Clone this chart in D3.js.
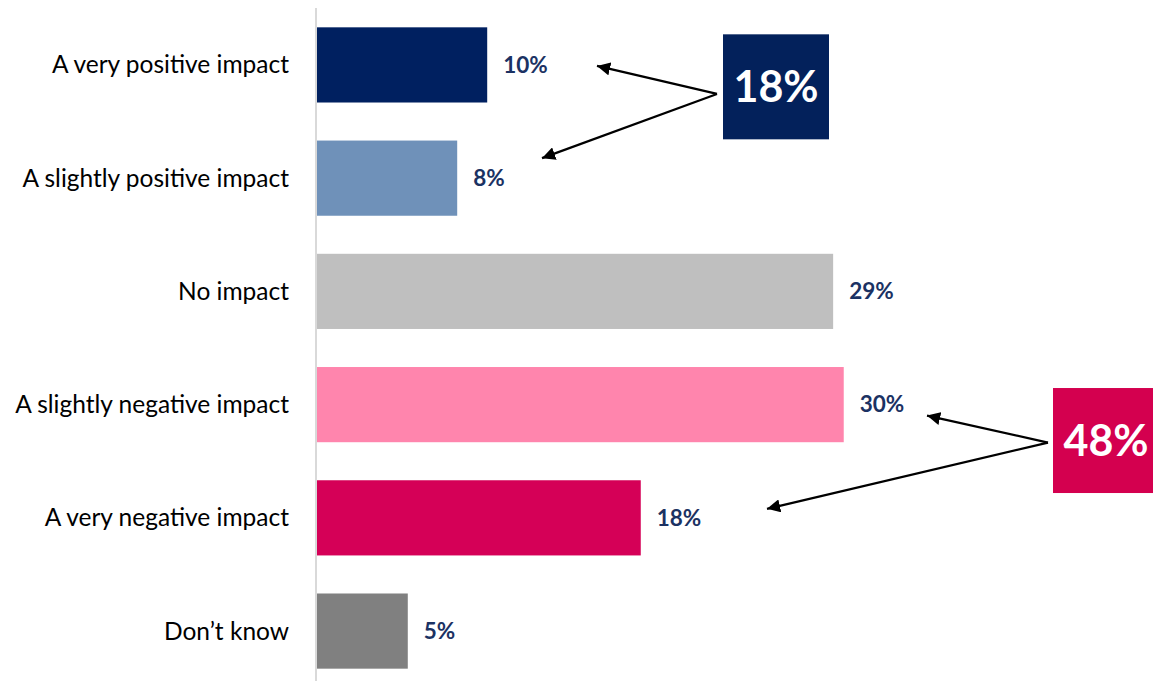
<!DOCTYPE html>
<html><head><meta charset="utf-8">
<script src="https://cdn.jsdelivr.net/npm/d3@7"></script>
<style>body{margin:0;background:#fff;}svg{display:block;}</style>
</head><body>
<svg id="c" width="1153" height="681"></svg>
<script>
const categories = ["A very positive impact","A slightly positive impact","No impact","A slightly negative impact","A very negative impact","Don\u2019t know"];
const values = [9.7, 8.0, 29.3, 29.9, 18.4, 5.2];
const valueLabels = ["10%","8%","29%","30%","18%","5%"];
const barColors = ["#002060","#6F91B9","#BFBFBF","#FF85AD","#D50057","#808080"];
const groupLabels = ["18%","48%"];
const groupMembers = [[0,1],[3,4]];
const groupColors = ["#03215B","#D4004F"];

const svg = d3.select("#c");
const font = "Lato, 'Open Sans', sans-serif";
const x = d3.scaleLinear().domain([0, 30]).range([316, 845.5]);
const y = d3.scaleBand().domain(categories).range([10, 686]).paddingInner(0.336).paddingOuter(0.153);

svg.append("line").attr("x1", x(0)).attr("x2", x(0)).attr("y1", 8).attr("y2", 681)
  .attr("stroke", "#D9D9D9").attr("stroke-width", 2);

svg.selectAll("rect.bar").data(categories).join("rect").attr("class","bar")
  .attr("x", x(0) + 1).attr("y", d => y(d))
  .attr("width", (d,i) => x(values[i]) - x(0) - 1).attr("height", y.bandwidth())
  .attr("fill", (d,i) => barColors[i]);

svg.selectAll("text.cat").data(categories).join("text").attr("class","cat")
  .attr("x", 289).attr("y", d => y(d) + y.bandwidth()/2).attr("dy", "0.35em")
  .attr("text-anchor", "end").attr("font-family", font).attr("font-size", 24.5).attr("fill", "#000")
  .text(d => d);

svg.selectAll("text.val").data(categories).join("text").attr("class","val")
  .attr("x", (d,i) => x(values[i]) + 16).attr("y", d => y(d) + y.bandwidth()/2).attr("dy", "0.35em")
  .attr("font-family", font).attr("font-size", 22.5).attr("font-weight", "bold").attr("fill", "#1B3263")
  .text((d,i) => valueLabels[i]);

const defs = svg.append("defs");
defs.append("marker").attr("id","ah").attr("viewBox","0 0 10 10").attr("refX",10).attr("refY",5)
  .attr("markerWidth",6).attr("markerHeight",6).attr("markerUnits","strokeWidth").attr("orient","auto")
  .append("path").attr("d","M0,0 L10,5 L0,10 Z").attr("fill","#000");

// annotation geometry relative to scales
const boxes = [
  {bx: 723, by: y(categories[0]) + 7, origin: [717, y(categories[0]) + y.bandwidth()/2 + 29],
   tips: [[597, y(categories[0]) + y.bandwidth()/2 + 1], [542, y(categories[1]) + y.bandwidth()/2 - 20]]},
  {bx: 1053, by: y(categories[3]) + 21, origin: [1048, y(categories[3]) + y.bandwidth()/2 + 38],
   tips: [[927, y(categories[3]) + y.bandwidth()/2 + 11], [767, y(categories[4]) + y.bandwidth()/2 - 9]]}
];
const boxSize = 106;
boxes.forEach((b, gi) => {
  b.tips.forEach(t => {
    svg.append("line").attr("x1", b.origin[0]).attr("y1", b.origin[1]).attr("x2", t[0]).attr("y2", t[1])
      .attr("stroke", "#000").attr("stroke-width", 2.2).attr("marker-end", "url(#ah)");
  });
  svg.append("rect").attr("x", b.bx).attr("y", b.by).attr("width", boxSize).attr("height", boxSize - 1)
    .attr("fill", groupColors[gi]);
  svg.append("text").attr("x", b.bx + boxSize/2).attr("y", b.by + boxSize/2).attr("dy", "0.35em")
    .attr("text-anchor", "middle").attr("font-family", font).attr("font-size", 43).attr("font-weight", "bold")
    .attr("fill", "#fff").text(groupLabels[gi]);
});
</script>
</body></html>
